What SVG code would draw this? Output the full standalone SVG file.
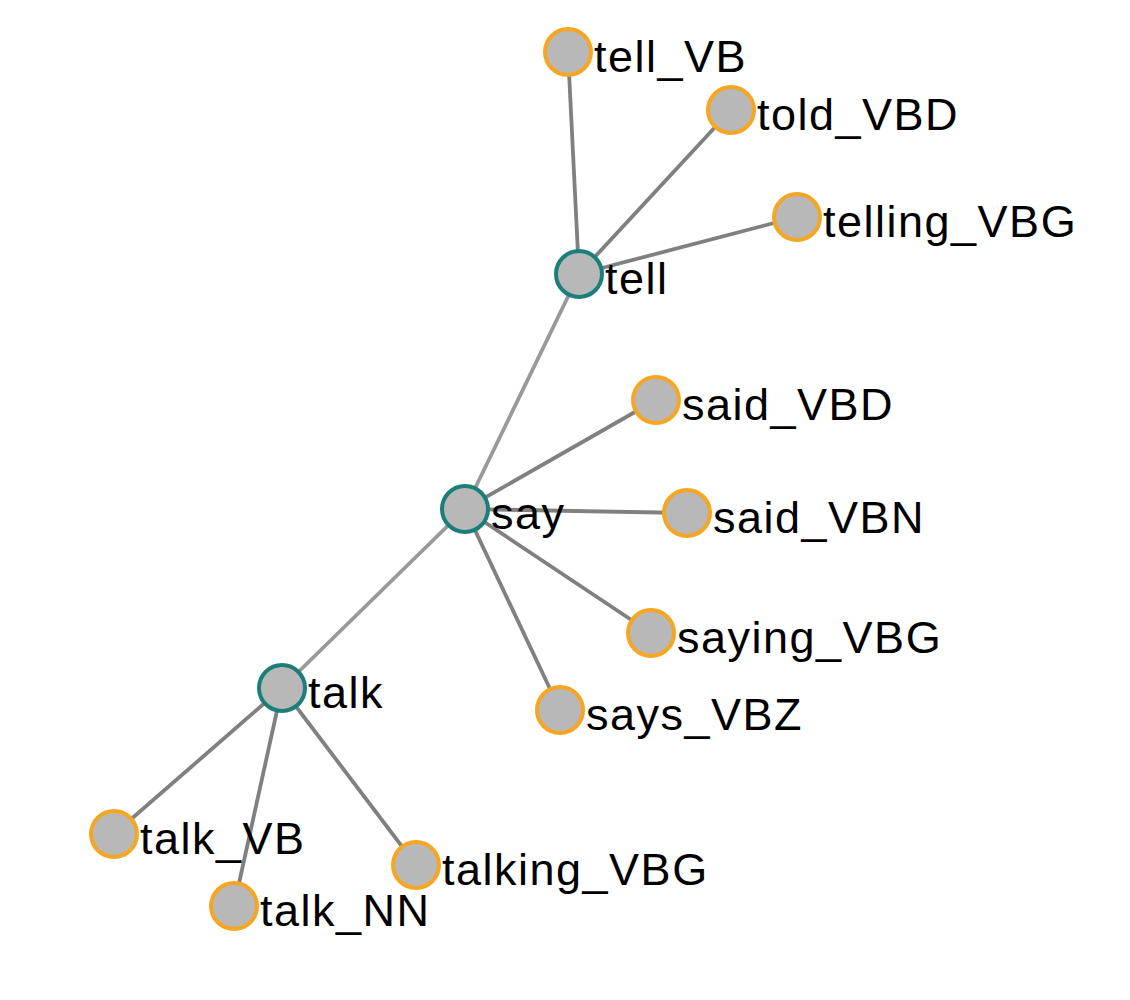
<svg xmlns="http://www.w3.org/2000/svg" width="1130" height="1000" viewBox="0 0 1130 1000">
<style>
.link{stroke:#808080;stroke-width:3.8;}
.link.hub{stroke:#999999;}
circle{fill:#b8b8b8;stroke-width:4;}
.leaf circle{stroke:#f5a623;}
.root circle{stroke:#1a7f7a;}
text{font-family:"Liberation Sans",Arial,sans-serif;font-size:45px;letter-spacing:1.5px;fill:#000;}
</style>
<rect width="1130" height="1000" fill="#fff"/>
<g id="connectors">
<line class="link" x1="579" y1="274" x2="568" y2="52"/>
<line class="link" x1="579" y1="274" x2="731" y2="110"/>
<line class="link" x1="579" y1="274" x2="797" y2="217"/>
<line class="link hub" x1="465" y1="509" x2="579" y2="274"/>
<line class="link" x1="465" y1="509" x2="656" y2="400"/>
<line class="link" x1="465" y1="509" x2="687" y2="513"/>
<line class="link" x1="465" y1="509" x2="651" y2="633"/>
<line class="link" x1="465" y1="509" x2="560" y2="710"/>
<line class="link hub" x1="465" y1="509" x2="282" y2="688"/>
<line class="link" x1="282" y1="688" x2="114" y2="834"/>
<line class="link" x1="282" y1="688" x2="234" y2="906"/>
<line class="link" x1="282" y1="688" x2="416" y2="865"/>
</g>
<g id="tell_VB" class="leaf"><circle cx="568" cy="52" r="23"/><text x="594" y="72">tell_VB</text></g>
<g id="told_VBD" class="leaf"><circle cx="731" cy="110" r="23"/><text x="757" y="130">told_VBD</text></g>
<g id="telling_VBG" class="leaf"><circle cx="797" cy="217" r="23"/><text x="823" y="237">telling_VBG</text></g>
<g id="tell" class="root"><circle cx="579" cy="274" r="23"/><text x="605" y="294">tell</text></g>
<g id="said_VBD" class="leaf"><circle cx="656" cy="400" r="23"/><text x="682" y="420">said_VBD</text></g>
<g id="said_VBN" class="leaf"><circle cx="687" cy="513" r="23"/><text x="713" y="533">said_VBN</text></g>
<g id="say" class="root"><circle cx="465" cy="509" r="23"/><text x="491" y="529">say</text></g>
<g id="saying_VBG" class="leaf"><circle cx="651" cy="633" r="23"/><text x="677" y="653">saying_VBG</text></g>
<g id="says_VBZ" class="leaf"><circle cx="560" cy="710" r="23"/><text x="586" y="730">says_VBZ</text></g>
<g id="talk" class="root"><circle cx="282" cy="688" r="23"/><text x="308" y="708">talk</text></g>
<g id="talk_VB" class="leaf"><circle cx="114" cy="834" r="23"/><text x="140" y="854">talk_VB</text></g>
<g id="talk_NN" class="leaf"><circle cx="234" cy="906" r="23"/><text x="260" y="926">talk_NN</text></g>
<g id="talking_VBG" class="leaf"><circle cx="416" cy="865" r="23"/><text x="442" y="885">talking_VBG</text></g>
</svg>
